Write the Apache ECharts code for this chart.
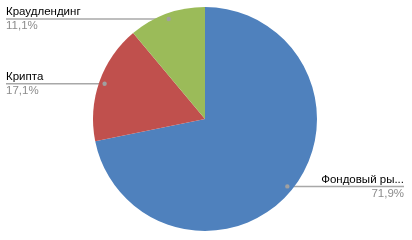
<!DOCTYPE html>
<html><head><meta charset="utf-8">
<script src="https://cdn.jsdelivr.net/npm/echarts@6/dist/echarts.min.js"></script>
<style>html,body{margin:0;padding:0;background:#fff}#c{width:412px;height:240px}</style>
</head><body><div id="c"></div>
<script>
const categories = ['Фондовый рынок', 'Крипта', 'Краудлендинг'];
const values = [71.9, 17.1, 11.1];
const percentLabels = ['71,9%', '17,1%', '11,1%'];
const colors = ['#4F81BD', '#C0504D', '#9BBB59'];

const CX = 205, CY = 119, R = 112;
const total = values.reduce((a, b) => a + b, 0);
function dotPos(i) {
  let cum = 0;
  for (let k = 0; k < i; k++) cum += values[k];
  const th = 2 * Math.PI * (cum + values[i] / 2) / total;
  return [CX + 0.95 * R * Math.sin(th), CY - 0.95 * R * Math.cos(th), Math.sin(th) > 0];
}

const font = '"Liberation Sans", Arial, sans-serif';
const FS = 11.5;
const measureCtx = document.createElement('canvas').getContext('2d');
measureCtx.font = FS + 'px ' + font;
function fitName(s, maxW) {
  if (measureCtx.measureText(s).width <= maxW) return s;
  let t = s;
  while (t.length > 1 && measureCtx.measureText(t + '...').width > maxW) t = t.slice(0, -1);
  return t + '...';
}

const chart = echarts.init(document.getElementById('c'), null, {renderer: 'canvas'});
chart.setOption({
  animation: false,
  color: colors,
  series: [{
    type: 'pie',
    center: [CX, CY],
    radius: [0, R],
    startAngle: 90,
    clockwise: true,
    data: categories.map((c, i) => ({name: c, value: values[i]})),
    label: {
      show: true,
      position: 'outside',
      overflow: 'none',
      formatter: p => '{n|' + fitName(p.name, 88) + '}\n{p|' + percentLabels[p.dataIndex] + '}',
      rich: {
        n: {fontFamily: font, fontSize: FS, color: '#000', lineHeight: 14},
        p: {fontFamily: font, fontSize: FS, color: '#8c8c8c', lineHeight: 14}
      }
    },
    labelLine: {show: true, lineStyle: {color: '#a8a8a8', width: 1.5}},
    labelLayout: function (params) {
      const [dx, dy, right] = dotPos(params.dataIndex);
      const ex = right ? 404 : 6;
      return {
        x: ex,
        y: dy,
        align: right ? 'right' : 'left',
        verticalAlign: 'middle',
        labelLinePoints: [[dx, dy], [dx, dy], [ex, dy]]
      };
    }
  }],
  graphic: values.map((v, i) => {
    const [dx, dy] = dotPos(i);
    return {type: 'circle', shape: {cx: dx, cy: dy, r: 2.2}, style: {fill: '#a0a0a0'}, z: 100};
  })
});
</script></body></html>
